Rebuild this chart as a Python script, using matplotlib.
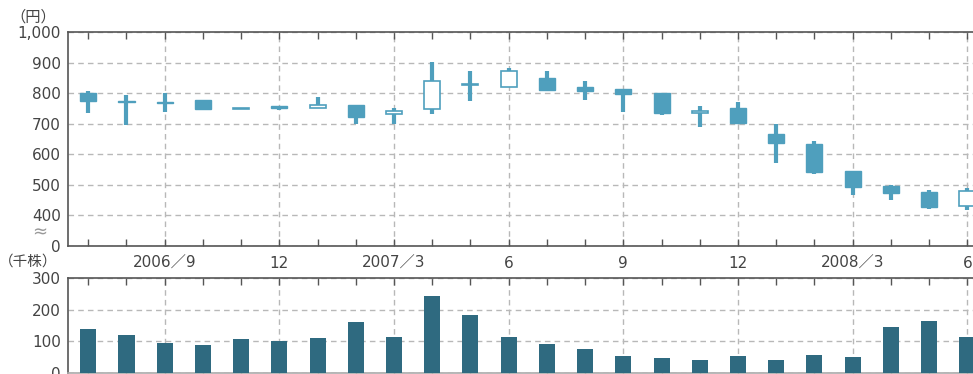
import numpy as np
import matplotlib.pyplot as plt

plt.rcParams['font.family'] = ['DejaVu Sans', 'Noto Sans CJK JP']

months = ['2006/7', '2006/8', '2006/9', '2006/10', '2006/11', '2006/12',
          '2007/1', '2007/2', '2007/3', '2007/4', '2007/5', '2007/6',
          '2007/7', '2007/8', '2007/9', '2007/10', '2007/11', '2007/12',
          '2008/1', '2008/2', '2008/3', '2008/4', '2008/5', '2008/6']
open_ = [800, 773, 769, 777, 747, 759, 751, 760, 731, 747, 828, 821,
         851, 821, 812, 801, 735, 751, 665, 634, 546, 495, 476, 432]
close = [775, 771, 768, 748, 753, 750, 760, 722, 740, 841, 831, 872,
         811, 806, 797, 734, 741, 703, 636, 543, 494, 475, 429, 480]
high = [806, 793, 800, 777, 753, 759, 787, 760, 753, 901, 872, 882,
        872, 839, 812, 801, 758, 771, 700, 642, 546, 500, 483, 489]
low = [736, 696, 739, 745, 747, 746, 750, 699, 699, 733, 775, 821,
       811, 778, 739, 730, 690, 703, 573, 537, 468, 452, 420, 419]
volume = [140, 121, 96, 89, 108, 102, 112, 162, 115, 244, 184, 115,
          93, 77, 55, 48, 42, 55, 42, 58, 52, 146, 165, 115]

major_idx = [2, 5, 8, 11, 14, 17, 20, 23]
major_labels = ['2006／9', '12', '2007／3', '6', '9', '12', '2008／3', '6']

candle_col = '#4f9fbd'
bar_col = '#2f6a80'
grid_col = '#b8b8b8'
text_col = '#444444'
spine_col = '#555555'

W, H = 973, 374
fig = plt.figure(figsize=(W / 100, H / 100), dpi=100)
ax = fig.add_axes([68 / W, 1 - 246 / H, 0.94, 214 / H])
ax2 = fig.add_axes([68 / W, 1 - 373 / H, 0.94, 95 / H])

x = np.arange(len(months))

# price candles
ax.vlines(x, low, high, color=candle_col, lw=3, zorder=3)
for i in x:
    o, c = open_[i], close[i]
    h = max(abs(c - o), 2)
    b = min(o, c)
    if c >= o:
        ax.bar(i, h, bottom=b, width=0.42, facecolor='white', edgecolor=candle_col, lw=1.2, zorder=4)
    else:
        ax.bar(i, h, bottom=b, width=0.42, facecolor=candle_col, edgecolor=candle_col, lw=1, zorder=4)

ax.set_ylim(300, 1000)
ax.set_yticks([300, 400, 500, 600, 700, 800, 900, 1000])
ax.set_yticklabels(['0', '400', '500', '600', '700', '800', '900', '1,000'])

fig.text(40 / W, 1 - 232 / H, '≈', ha='center', va='center', fontsize=13, color='#999999')
fig.text(56 / W, 1 - 17 / H, '（円）', ha='right', va='center', fontsize=11,
         color=text_col, family=['Noto Sans CJK JP'])
fig.text(57 / W, 1 - 262 / H, '（千株）', ha='right', va='center', fontsize=10.5,
         color=text_col, family=['Noto Sans CJK JP'])

# volume bars
ax2.bar(x, volume, width=0.42, color=bar_col, zorder=3)
ax2.set_ylim(0, 300)
ax2.set_yticks([0, 100, 200, 300])

for a in (ax, ax2):
    a.set_xlim(-0.53, 23.4)
    a.set_xticks(major_idx)
    a.set_xticks(x, minor=True)
    a.tick_params(axis='x', which='both', direction='in', top=True, bottom=True,
                  length=5, width=1, color=spine_col)
    a.tick_params(axis='y', length=0, labelsize=11, labelcolor=text_col, pad=5)
    a.grid(True, axis='both', which='major', ls=(0, (4, 3)), color=grid_col, lw=1)
    a.set_axisbelow(True)
    a.spines['right'].set_visible(False)
    for s in ('left', 'top', 'bottom'):
        a.spines[s].set_color(spine_col)
        a.spines[s].set_linewidth(1.2)

ax.set_xticklabels(major_labels, fontsize=11, color=text_col)
ax.tick_params(axis='x', pad=7)
ax2.set_xticklabels([])
ax2.spines['bottom'].set_color('#aaaaaa')

fig.savefig('out.png', dpi=100)
